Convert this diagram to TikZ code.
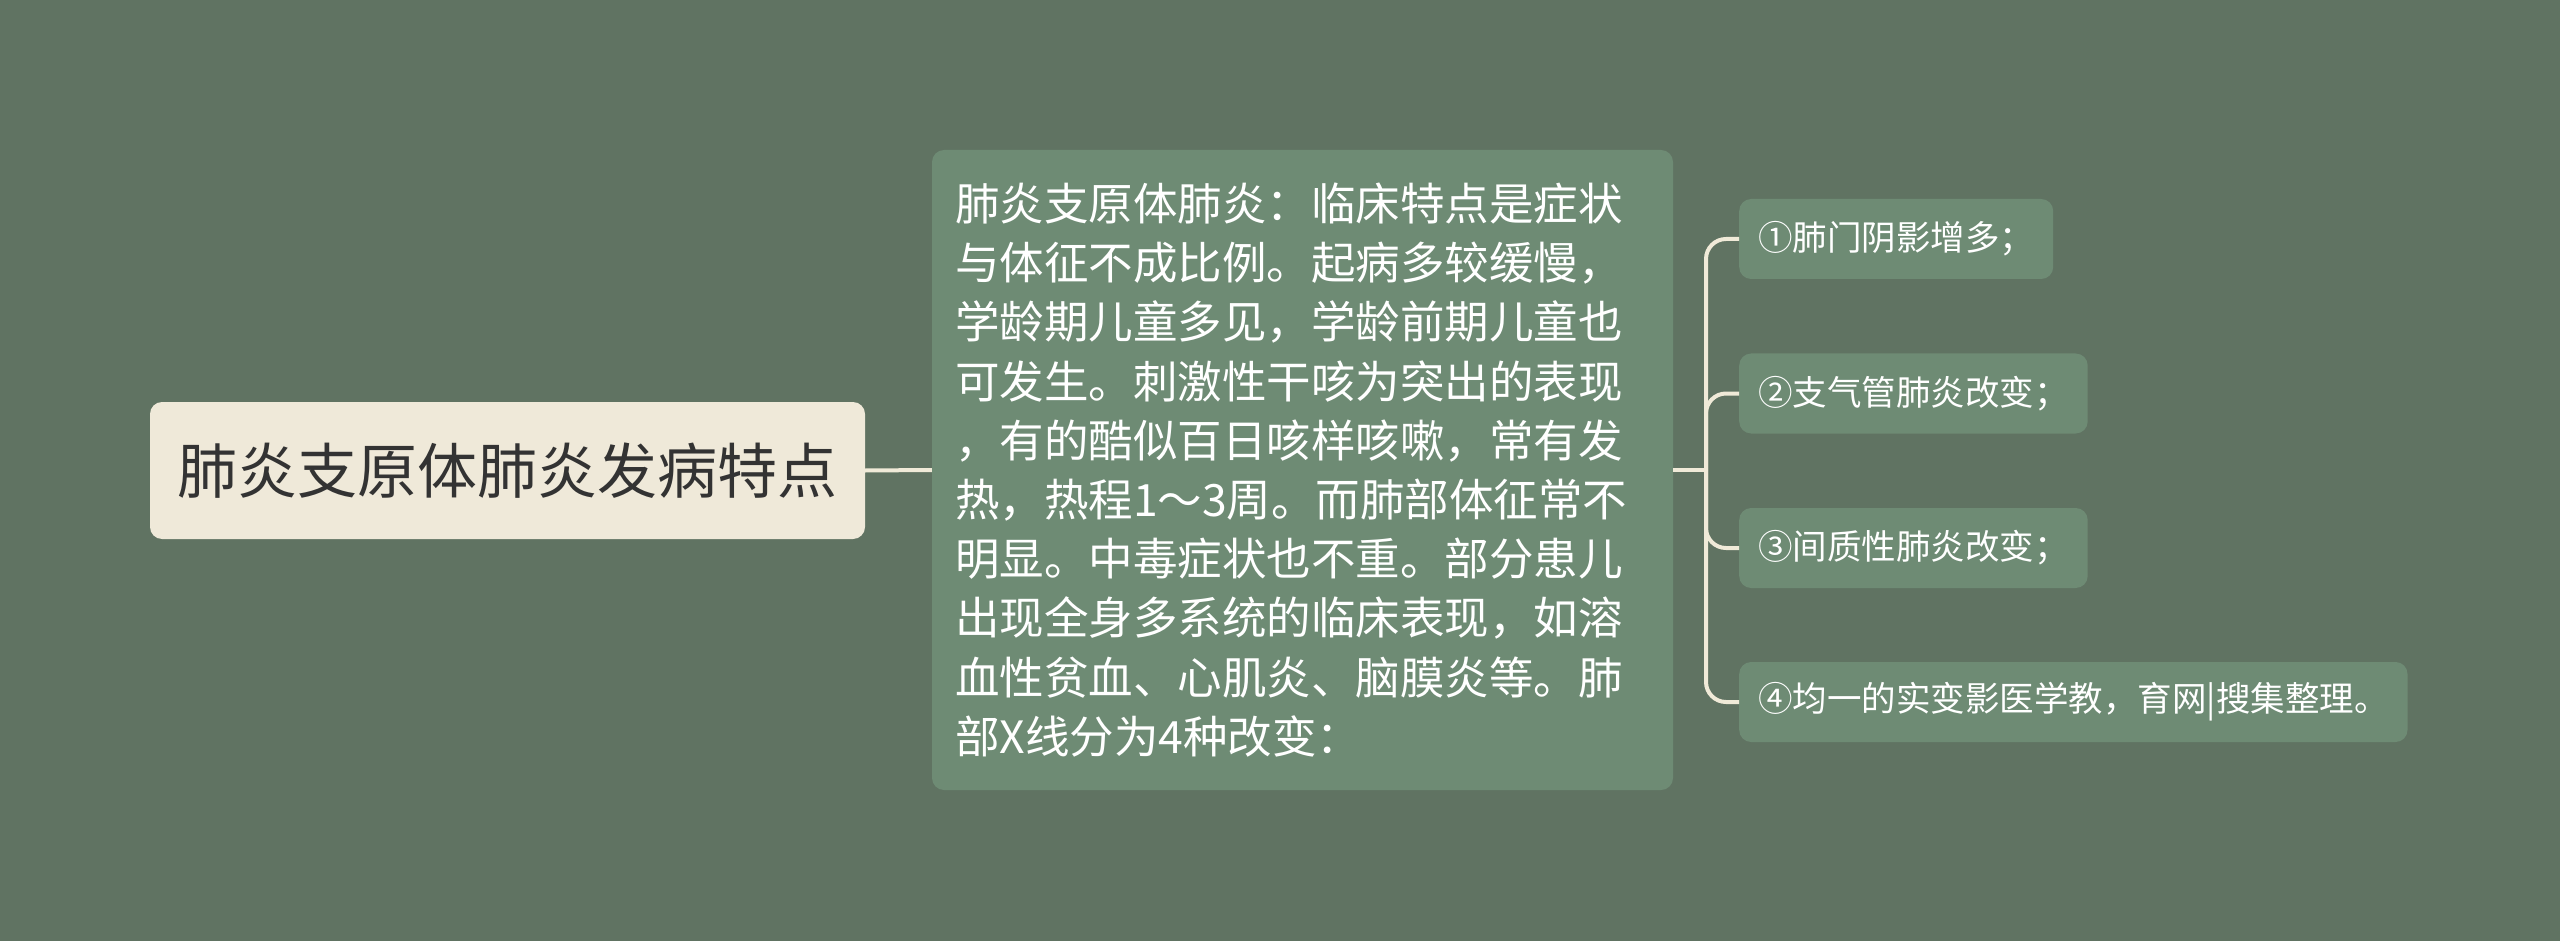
\documentclass[tikz,border=0pt]{standalone}
\usepackage{fontspec}
\setmainfont{Noto Sans CJK SC}
\usepackage{tikz}
\definecolor{mind_bg}{HTML}{607362}
\definecolor{mind_box}{HTML}{6E8B74}
\definecolor{mind_root}{HTML}{EFE9D9}
\definecolor{mind_line}{HTML}{F0EAD8}
\definecolor{mind_ink}{HTML}{333333}

\begin{document}
\begin{tikzpicture}[x=1pt, y=-1pt,
  every node/.style={inner sep=0pt},
  rootbox/.style={fill=mind_root, text=mind_ink, rounded corners=12pt,
    minimum width=715pt, minimum height=137pt,
    font=\fontsize{60}{66}\selectfont},
  midbox/.style={fill=mind_box, text=white, rounded corners=12pt,
    minimum width=741pt, minimum height=640pt, text width=695pt, align=left,
    font=\fontsize{44.5}{59.2}\selectfont},
  leafbox/.style={fill=mind_box, text=white, rounded corners=12pt,
    minimum height=80pt, inner xsep=19pt, anchor=west,
    font=\fontsize{34.5}{40}\selectfont},
  link/.style={draw=mind_line, line width=4pt}]

  \fill[mind_bg] (0,0) rectangle (2560,941);

  \node[rootbox] (root) at (507.5,470.5) {肺炎支原体肺炎发病特点};

  \node[midbox] (mid) at (1302.5,470) {肺炎支原体肺炎：临床特点是症状\\
    与体征不成比例。起病多较缓慢，\\
    学龄期儿童多见，学龄前期儿童也\\
    可发生。刺激性干咳为突出的表现\\
    ，有的酷似百日咳样咳嗽，常有发\\
    热，热程1～3周。而肺部体征常不\\
    明显。中毒症状也不重。部分患儿\\
    出现全身多系统的临床表现，如溶\\
    血性贫血、心肌炎、脑膜炎等。肺\\
    部X线分为4种改变：};

  \node[leafbox] (leaf1) at (1739,239) {①肺门阴影增多；};
  \node[leafbox] (leaf2) at (1739,393.5) {②支气管肺炎改变；};
  \node[leafbox] (leaf3) at (1739,548) {③间质性肺炎改变；};
  \node[leafbox] (leaf4) at (1739,702) {④均一的实变影医学教，育网|搜集整理。};

  \coordinate (fork) at (1706,470);

  \draw[link] (root.east) -- (mid.west);
  \draw[link] (mid.east) -- (fork);
  \foreach \i in {1,...,4}
    \draw[link, rounded corners=20pt] (fork) |- (leaf\i.west);

\end{tikzpicture}
\end{document}
